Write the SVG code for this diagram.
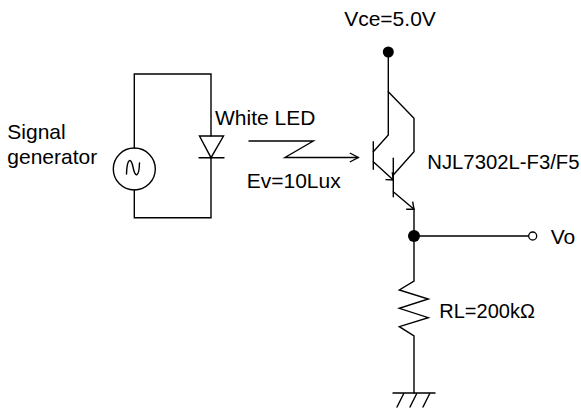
<svg xmlns="http://www.w3.org/2000/svg" width="581" height="410" viewBox="0 0 581 410">
<style>
.w{fill:none;stroke:#000;stroke-width:1.4;stroke-linecap:round;stroke-linejoin:miter}
.t{font-family:"Liberation Sans",Arial,sans-serif;font-size:21px;fill:#000}
.dot{fill:#000}
</style>
<defs>
<marker id="ah" viewBox="-10 -6 12 12" markerWidth="12" markerHeight="12" refX="0" refY="0" orient="auto" markerUnits="userSpaceOnUse">
<path d="M-6,-5 L0,0 L-6,5" fill="none" stroke="#000" stroke-width="1.4"/>
</marker>
<marker id="lh" viewBox="-10 -6 12 12" markerWidth="12" markerHeight="12" refX="0" refY="0" orient="auto" markerUnits="userSpaceOnUse">
<path d="M-8.5,-4.5 L0,0 L-8.5,4.5" fill="none" stroke="#000" stroke-width="1.4"/>
</marker>
</defs>
<rect width="581" height="410" fill="#fff"/>
<g id="connectors">
<path class="w" d="M134.3,148 V74 H211 V136"/>
<path class="w" d="M134.3,190 V217.7 H211 V157.7"/>
<path class="w" d="M388.3,52 V135 L373.3,151.7"/>
<path class="w" d="M388.3,91.7 L414,118.3 V151.7 L393.3,175"/>
<path class="w" d="M414,209.3 V281 L399.3,290 L428.3,299 L399.3,308.3 L428.3,317.7 L399.3,326.7 L414,336 V393"/>
<path class="w" d="M414,236 H528.7"/>
</g>
<g id="generator">
<circle class="w" cx="134.3" cy="169" r="21"/>
<path class="w" d="M126.5,174 C127,158 131,157 133,167 C135,178 139,178 139.5,163"/>
</g>
<g id="led">
<path class="w" d="M199.5,136 H223.5 L211,157.7 Z"/>
<path class="w" d="M199,157.7 H224"/>
</g>
<g id="light">
<path class="w" d="M249,141 H313.3 L285,157.5 H358.3" marker-end="url(#lh)"/>
</g>
<g id="transistor">
<path class="w" d="M373.3,141.7 V169.3"/>
<path class="w" d="M373.3,161.7 L393.3,180" marker-end="url(#ah)"/>
<path class="w" d="M393.3,158.3 V196.7"/>
<path class="w" d="M393.3,191.7 L414,209.3" marker-end="url(#ah)"/>
</g>
<g id="vcc">
<circle class="dot" cx="388.3" cy="52" r="5.5"/>
</g>
<g id="junction">
<circle class="dot" cx="414" cy="236" r="6"/>
</g>
<g id="vo">
<circle cx="532.7" cy="236" r="4" fill="#fff" stroke="#000" stroke-width="1.3"/>
</g>
<g id="ground">
<path class="w" d="M393,393 H435 M404,393 L397,407 M417,393 L410,407 M430,393 L423,407"/>
</g>
<g id="labels">
<text class="t" x="7.3" y="139">Signal</text>
<text class="t" x="7.3" y="164">generator</text>
<text class="t" x="215" y="124.5">White LED</text>
<text class="t" x="246.7" y="187.5">Ev=10Lux</text>
<text class="t" x="390" y="25.7" text-anchor="middle">Vce=5.0V</text>
<text class="t" x="427.3" y="169" style="font-size:20.3px">NJL7302L-F3/F5</text>
<text class="t" x="550.7" y="244">Vo</text>
<text class="t" x="439.3" y="318" style="font-size:20px">RL=200kΩ</text>
</g>
</svg>
